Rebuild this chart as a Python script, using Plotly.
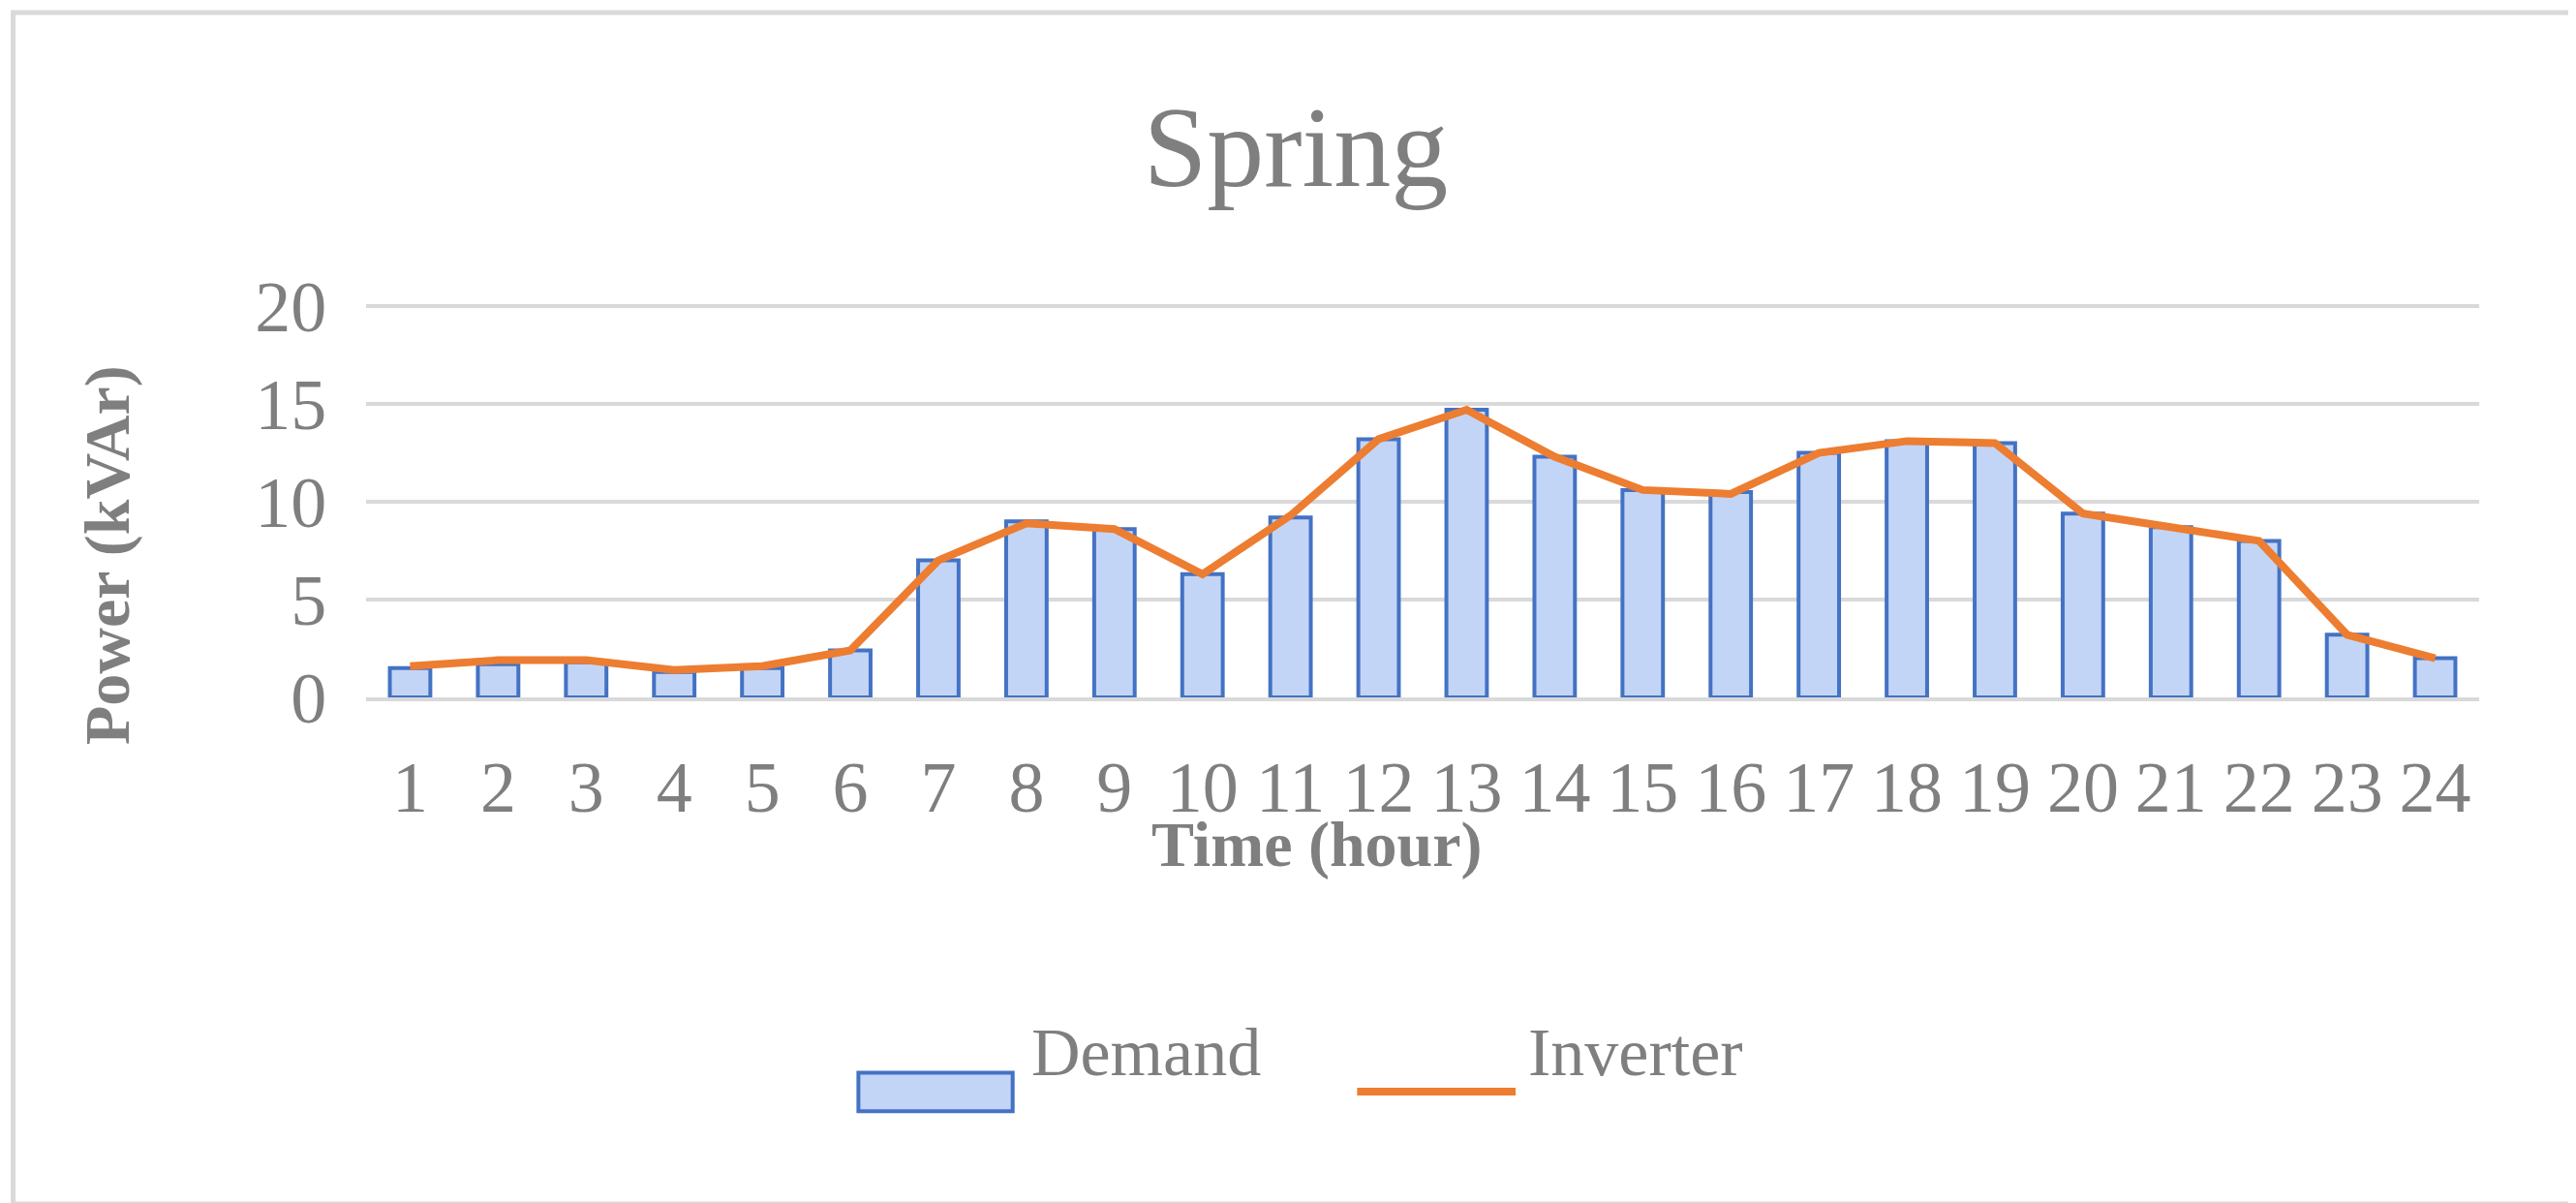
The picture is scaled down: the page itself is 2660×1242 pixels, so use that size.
import plotly.graph_objects as go

hours = list(range(1, 25))
demand = [1.5, 1.7, 1.8, 1.3, 1.5, 2.4, 7.0, 9.0, 8.6, 6.3, 9.2, 13.2,
          14.7, 12.3, 10.6, 10.5, 12.5, 13.1, 13.0, 9.4, 8.7, 8.0, 3.2, 2.0]
inverter = [1.6, 1.9, 1.9, 1.4, 1.6, 2.4, 7.0, 8.9, 8.6, 6.3, 9.3, 13.2,
            14.7, 12.3, 10.6, 10.4, 12.5, 13.1, 13.0, 9.4, 8.7, 8.0, 3.2, 2.0]

FONT = "Liberation Serif"
GRAY = "#7f7f7f"
BAR_FILL = "#c3d5f6"
BAR_LINE = "#4472c4"
LINE_COL = "#ed7d31"

fig = go.Figure()
fig.add_trace(go.Bar(
    x=hours, y=demand, name="Demand", width=0.46, showlegend=False,
    marker=dict(color=BAR_FILL, line=dict(color=BAR_LINE, width=4)),
))
fig.add_trace(go.Scatter(
    x=hours, y=inverter, name="Inverter", mode="lines", showlegend=False,
    line=dict(color=LINE_COL, width=8),
))

fig.update_layout(
    width=2660, height=1242,
    margin=dict(l=370, r=108, t=305, b=530),
    paper_bgcolor="white", plot_bgcolor="white",
    font=dict(family=FONT, color=GRAY, size=74),
    title=dict(text="Spring", x=0.5, xanchor="center", y=0.885, yanchor="middle",
               font=dict(size=118, color=GRAY)),
)
fig.update_xaxes(tickmode="array", tickvals=hours, ticktext=[str(h) for h in hours],
                 range=[0.5, 24.5], showgrid=False, showline=True,
                 linecolor="#d9d9d9", linewidth=4, ticks="outside", ticklen=25,
                 tickcolor="white", tickfont=dict(size=74, color=GRAY))
fig.update_yaxes(range=[0, 20.15], tickvals=[0, 5, 10, 15, 20], showgrid=True,
                 gridcolor="#d9d9d9", gridwidth=4, zeroline=False,
                 ticks="outside", ticklen=25, tickcolor="white",
                 tickfont=dict(size=74, color=GRAY))

fig.add_annotation(text="<b>Time (hour)</b>", xref="paper", yref="paper",
                   x=0.45, y=-0.47, showarrow=False, font=dict(size=66, color=GRAY))
fig.add_annotation(text="<b>Power (kVAr)</b>", xref="paper", yref="paper",
                   x=-0.14, y=0.36, textangle=-90, showarrow=False,
                   font=dict(size=66, color=GRAY))
fig.add_shape(type="rect", xref="paper", yref="paper",
              x0=-0.167, x1=1.047, y0=-1.285, y1=1.737,
              line=dict(color="#d9d9d9", width=5))

# custom legend
fig.add_shape(type="rect", xref="paper", yref="paper",
              x0=0.233, x1=0.306, y0=-1.05, y1=-0.952,
              fillcolor=BAR_FILL, line=dict(color=BAR_LINE, width=4))
fig.add_annotation(text="Demand", xref="paper", yref="paper", x=0.314, y=-1.0,
                   xanchor="left", showarrow=False, font=dict(size=70, color=GRAY))
fig.add_shape(type="line", xref="paper", yref="paper",
              x0=0.469, x1=0.544, y0=-1.0, y1=-1.0,
              line=dict(color=LINE_COL, width=8))
fig.add_annotation(text="Inverter", xref="paper", yref="paper", x=0.549, y=-1.0,
                   xanchor="left", showarrow=False, font=dict(size=70, color=GRAY))

fig.write_html("out.html")
